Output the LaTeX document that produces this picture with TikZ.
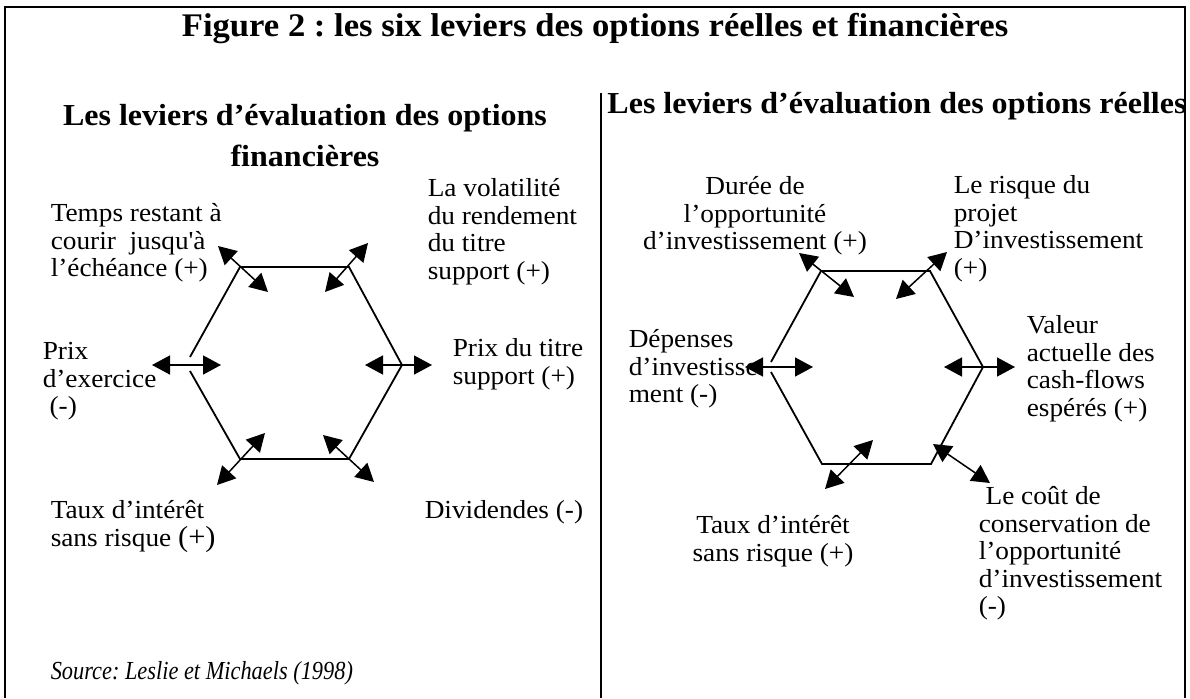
\documentclass[tikz,border=0pt]{standalone}
\usepackage{fontspec}
\setmainfont{Liberation Serif}[FakeStretch=1.05]
\newfontfamily\srcfont{Liberation Serif}[FakeStretch=0.86]
\usetikzlibrary{positioning,arrows.meta,calc}
\tikzset{>={Triangle[length=18pt,width=19pt]}}
\tikzset{
  lever/.style={font=\fontsize{26}{27.5}\selectfont, align=left, anchor=north west, inner sep=0pt},
  heading/.style={font=\fontsize{30.5}{41}\selectfont\bfseries, align=center, inner sep=0pt},
  hexa/.style={line width=1.8pt, line join=miter},
}
\frenchspacing

\begin{document}
\begin{tikzpicture}[x=1pt, y=-1pt, line width=1.5pt]
  \useasboundingbox (0,0) rectangle (1190,698);
  % frame and divider
  \draw[line width=2.5pt] (5,698) -- (5,7) -- (1185,7) -- (1185,698);
  \draw (601,93) -- (601,698);

  \node[heading, font=\fontsize{33}{38}\selectfont\bfseries] (title) at (595,29)
    {Figure 2 : les six leviers des options réelles et financières};
  \node[heading, anchor=north] (finhead) at (305,104) {Les leviers d’évaluation des options\\financières};
  \node[heading] (reelhead) at (897,106) {Les leviers d’évaluation des options réelles};

  % financial options hexagon
  \coordinate (f1) at (240,267);
  \coordinate (f2) at (349,267);
  \coordinate (f3) at (402,365);
  \coordinate (f4) at (349,459);
  \coordinate (f5) at (240,459);
  \coordinate (f6a) at (190,357);
  \coordinate (f6b) at (190,371);
  \draw[hexa] (f6a) -- (f1) -- (f2) -- (f3) -- (f4) -- (f5) -- (f6b);

  \coordinate (fo1) at (218,246); \coordinate (fi1) at (268,292);
  \coordinate (fo2) at (368,243); \coordinate (fi2) at (325,292);
  \coordinate (fo3) at (432,365); \coordinate (fi3) at (365,365);
  \coordinate (fo4) at (374,482); \coordinate (fi4) at (323,435);
  \coordinate (fo5) at (217,485); \coordinate (fi5) at (265,433);
  \coordinate (fo6) at (152,365); \coordinate (fi6) at (221,365);
  \path[<->]
    (fo1) edge (fi1)
    (fo2) edge (fi2)
    (fo3) edge (fi3)
    (fo4) edge (fi4)
    (fo5) edge (fi5)
    (fo6) edge (fi6);

  \node[lever] (temps) at (50,203) {Temps restant à\\courir\ \ jusqu\textquotesingle à\\l’échéance (+)};
  \node[lever] (volat) at (427,178) {La volatilité\\du rendement\\du titre\\support (+)};
  \node[lever] (prixtitre) at (452,338) {Prix du titre\\support (+)};
  \node[lever] (prixex) at (42,342) {Prix\\d’exercice\\\ (-)};
  \node[lever] (tauxfin) at (50,500) {Taux d’intérêt\\sans risque {\fontsize{29}{28}\selectfont(+)}};
  \node[lever] (divid) at (424,500) {Dividendes (-)};
  \node[lever, anchor=west, font=\fontsize{26}{28}\srcfont\itshape] (source) at (50,673)
    {Source: Leslie et Michaels (1998)};

  % real options hexagon
  \coordinate (r1) at (821,271);
  \coordinate (r2) at (930,271);
  \coordinate (r3) at (983,367);
  \coordinate (r4) at (931,464);
  \coordinate (r5) at (822,464);
  \coordinate (r6a) at (771,362);
  \coordinate (r6b) at (771,372);
  \draw[hexa] (r6a) -- (r1) -- (r2) -- (r3) -- (r4) -- (r5) -- (r6b);

  \coordinate (ro1) at (799,253);  \coordinate (ri1) at (854,297);
  \coordinate (ro2) at (947,252);  \coordinate (ri2) at (896,299);
  \coordinate (ro3) at (1015,367); \coordinate (ri3) at (944,367);
  \coordinate (ro4) at (990,483);  \coordinate (ri4) at (933,444);
  \coordinate (ro5) at (825,489);  \coordinate (ri5) at (873,440);
  \coordinate (ro6) at (745,367);  \coordinate (ri6) at (813,367);
  \path[<->]
    (ro1) edge (ri1)
    (ro2) edge (ri2)
    (ro3) edge (ri3)
    (ro4) edge (ri4)
    (ro5) edge (ri5)
    (ro6) edge (ri6);

  \node[lever, anchor=north, align=center] (duree) at (755,176) {Durée de\\l’opportunité\\d’investissement (+)};
  \node[lever] (risque) at (953,175) {Le risque du\\projet\\D’investissement\\(+)};
  \node[lever] (depenses) at (628,329) {Dépenses\\d’investisse\\ment (-)};
  \node[lever] (valeur) at (1026,315) {Valeur\\actuelle des\\cash-flows\\espérés (+)};
  \node[lever, anchor=north, align=center] (tauxreel) at (773,515) {Taux d’intérêt\\sans risque (+)};
  \node[lever] (cout) at (978,486) {\ Le coût de\\conservation de\\l’opportunité\\d’investissement\\(-)};
\end{tikzpicture}
\end{document}
